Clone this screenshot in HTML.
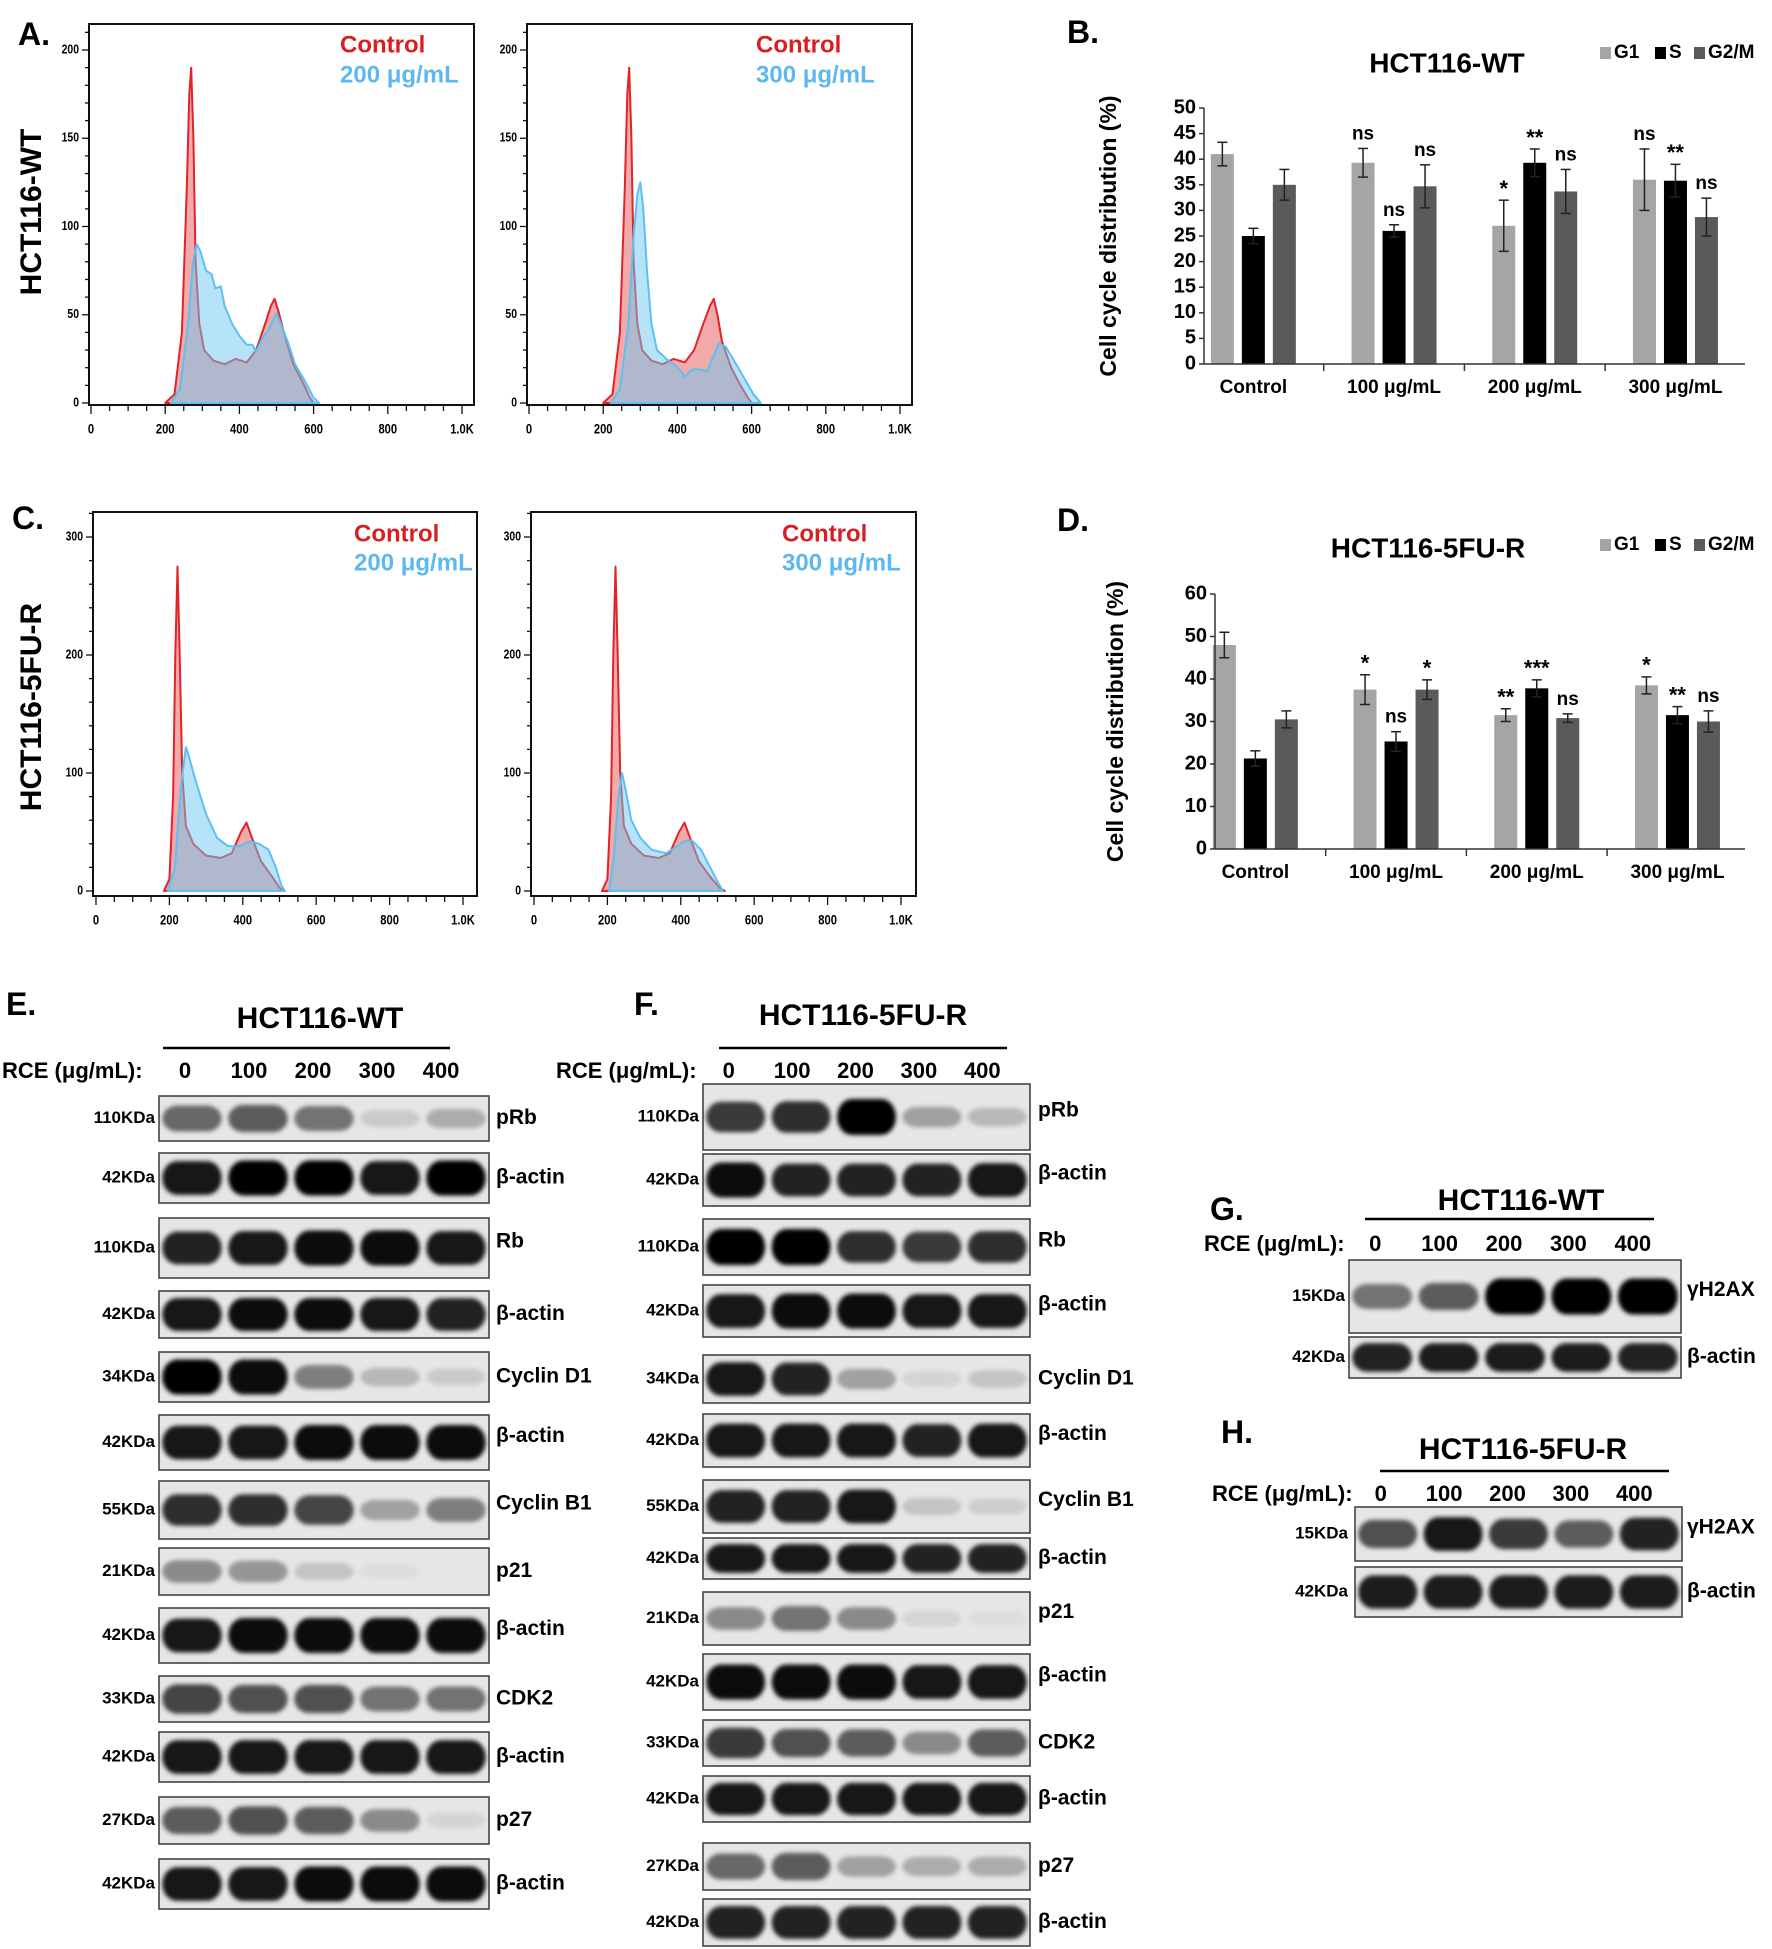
<!DOCTYPE html>
<html><head><meta charset="utf-8"><style>
html,body{margin:0;padding:0;background:#fff}
svg{display:block}
text{font-family:"Liberation Sans",Arial,sans-serif;font-weight:bold}
</style></head><body>
<svg id="fig" xmlns="http://www.w3.org/2000/svg" width="1772" height="1949" viewBox="0 0 1772 1949">
<defs><filter id="blur" x="-20%" y="-80%" width="140%" height="260%"><feGaussianBlur stdDeviation="2.2"/></filter></defs>
<g id="root"></g>
</svg>
<script>
// ---------- histogram data (DNA content vs count) ----------
const histWTcontrol = [[200,0],[225,5],[245,40],[258,120],[265,175],[270,190],[276,150],[282,80],[292,45],[305,30],[330,24],[360,22],[390,25],[420,23],[445,30],[465,42],[485,55],[495,59],[505,52],[520,40],[545,22],[570,12],[590,3],[600,0]];
const histWT200 = [[215,0],[240,8],[262,45],[275,80],[285,90],[295,86],[310,75],[325,73],[335,65],[350,66],[360,55],[380,45],[400,38],[420,33],[435,33],[445,29],[460,36],[480,42],[500,51],[515,43],[530,35],[550,22],[575,13],[600,3],[615,0]];
const histWT300 = [[220,0],[245,8],[268,45],[282,95],[292,118],[300,125],[308,110],[318,75],[330,45],[345,30],[370,25],[390,22],[410,18],[420,15],[440,19],[460,19],[480,18],[500,28],[512,34],[530,32],[550,25],[580,14],[605,5],[625,0]];
const histWTcontrol2 = [[200,0],[225,5],[245,40],[258,120],[265,175],[270,190],[276,150],[282,80],[292,45],[305,30],[330,24],[360,22],[390,25],[420,23],[445,30],[470,45],[488,55],[498,59],[508,50],[520,35],[545,20],[570,10],[590,3],[600,0]];
const histRcontrol = [[185,0],[200,10],[210,80],[216,200],[222,275],[228,200],[235,100],[245,55],[265,40],[300,30],[340,28],[370,32],[395,50],[410,58],[425,45],[450,25],[480,12],[500,3],[510,0]];
const histR200 = [[195,0],[215,20],[232,90],[245,122],[255,112],[270,95],[300,65],[330,45],[360,38],[390,38],[420,42],[445,40],[470,35],[490,20],[505,5],[515,0]];
const histR300 = [[205,0],[218,30],[230,80],[240,100],[250,85],[265,60],[290,45],[320,35],[360,32],[390,38],[410,42],[430,43],[455,35],[480,20],[500,8],[515,0]];
const histRcontrol2 = [[185,0],[200,10],[210,80],[216,200],[222,275],[228,200],[235,100],[245,55],[265,40],[300,30],[340,28],[370,32],[395,50],[410,58],[425,45],[450,25],[480,12],[505,3],[520,0]];
const histXTicks = ["0","200","400","600","800","1.0K"];
const histYTicksA = [0,50,100,150,200];
const histYTicksC = [0,100,200,300];

// ---------- bar chart data ----------
const barCategories = ["Control","100 μg/mL","200 μg/mL","300 μg/mL"];
const seriesNames = ["G1","S","G2/M"];
const wtG1 = [41,39.3,27,36], wtG1err=[2.3,2.8,5,6];
const wtS = [25,26,39.3,35.8], wtSerr=[1.5,1.2,2.7,3.2];
const wtG2M = [35,34.7,33.7,28.7], wtG2Merr=[3,4.2,4.3,3.7];
const wtG1sig=["","ns","*","ns"], wtSsig=["","ns","**","**"], wtG2Msig=["","ns","ns","ns"];
const rG1 = [48,37.5,31.5,38.5], rG1err=[3,3.5,1.5,2];
const rS = [21.3,25.3,37.8,31.5], rSerr=[1.8,2.3,2,2];
const rG2M = [30.5,37.5,30.8,30], rG2Merr=[2,2.3,1,2.5];
const rG1sig=["","*","**","*"], rSsig=["","ns","***","**"], rG2Msig=["","*","ns","ns"];
const wtYTicks=[0,5,10,15,20,25,30,35,40,45,50];
const rYTicks=[0,10,20,30,40,50,60];

// ---------- blot band intensities ----------
const laneLabels=["0","100","200","300","400"];
const E_pRb=[0.55,0.6,0.5,0.12,0.25], E_act1=[0.9,1,1,0.9,1], E_Rb=[0.85,0.9,0.95,0.95,0.9], E_act2=[0.9,0.95,0.95,0.9,0.85];
const E_cycD1=[1,0.95,0.45,0.2,0.12], E_act3=[0.9,0.9,0.95,0.95,0.95], E_cycB1=[0.8,0.8,0.7,0.3,0.45], E_p21=[0.4,0.35,0.15,0.04,0];
const E_act4=[0.9,0.95,0.95,0.95,0.95], E_cdk2=[0.7,0.65,0.65,0.5,0.5], E_act5=[0.9,0.9,0.9,0.9,0.9], E_p27=[0.6,0.65,0.6,0.4,0.08], E_act6=[0.9,0.9,0.95,0.95,0.95];
const F_pRb=[0.75,0.8,1,0.3,0.2], F_act1=[0.95,0.85,0.85,0.85,0.9], F_Rb=[1,1,0.8,0.75,0.8], F_act2=[0.9,0.95,0.95,0.9,0.9];
const F_cycD1=[0.9,0.85,0.3,0.08,0.15], F_act3=[0.9,0.9,0.9,0.85,0.9], F_cycB1=[0.85,0.85,0.9,0.15,0.1], F_act4=[0.9,0.9,0.9,0.85,0.85];
const F_p21=[0.4,0.5,0.4,0.08,0.04], F_act5=[0.95,0.95,0.95,0.9,0.9], F_cdk2=[0.75,0.65,0.6,0.4,0.6], F_act6=[0.9,0.9,0.9,0.9,0.9], F_p27=[0.55,0.6,0.3,0.25,0.25], F_act7=[0.85,0.85,0.85,0.85,0.85];
const G_h2ax=[0.5,0.6,1,1,1], G_act=[0.85,0.88,0.88,0.88,0.85];
const H_h2ax=[0.65,0.9,0.75,0.6,0.85], H_act=[0.88,0.88,0.88,0.88,0.88];

const NS="http://www.w3.org/2000/svg";
const root=document.getElementById('root');
function el(tag,attrs,parent){const e=document.createElementNS(NS,tag);for(const k in attrs)e.setAttribute(k,attrs[k]);(parent||root).appendChild(e);return e;}
function txt(s,x,y,size,opts,parent){opts=opts||{};const t=el('text',{x:x,y:y,'font-size':size,fill:opts.fill||'#000','text-anchor':opts.anchor||'start','dominant-baseline':'middle'},parent);if(opts.transform)t.setAttribute('transform',opts.transform);t.textContent=s;return t;}

// ---------- histograms ----------
function histogram(name,f,yTicks,yMinorStep,ymax,series,legend){
  const g=el('g',{});
  
  
  const sx=v=>f.xz+(v/1000)*(f.xk-f.xz);
  const sy=v=>f.yz-(v/ymax)*(f.yz-f.ym);
  series.forEach(s=>{
    let d='M'+sx(s.pts[0][0])+','+sy(0);
    s.pts.forEach(p=>{d+=' L'+sx(p[0]).toFixed(1)+','+sy(p[1]).toFixed(1);});
    d+=' Z';
    const p=el('path',{d:d,fill:s.fill,stroke:s.stroke,'stroke-width':2,'stroke-linejoin':'round'},g);
    
    
  });
  el('rect',{x:f.x0,y:f.y0,width:f.x1-f.x0,height:f.y1-f.y0,fill:'none',stroke:'#111','stroke-width':2},g);
  const top=Math.floor(((f.yz-f.y0)/(f.yz-f.ym))*ymax);
  for(let v=0;v<=top;v+=yMinorStep){const y=sy(v);const major=yTicks.includes(v);
    el('line',{x1:f.x0-(major?7:4),x2:f.x0,y1:y,y2:y,stroke:'#111','stroke-width':1.3},g);}
  yTicks.forEach(v=>{const t=txt(String(v),f.x0-10,sy(v),13,{anchor:'end',transform:'scale(0.8,1)'},g);t.setAttribute('x',(f.x0-10)/0.8);t.setAttribute('font-weight','normal');});
  for(let v=0;v<=1000;v+=50){const x=sx(v);const major=v%200===0;
    el('line',{x1:x,x2:x,y1:f.y1,y2:f.y1+(major?9:6),stroke:'#111','stroke-width':1.3},g);}
  histXTicks.forEach((s,i)=>{const t=txt(s,sx(i*200)/0.8,f.y1+25,14,{anchor:'middle',transform:'scale(0.8,1)'},g);t.setAttribute('font-weight','normal');});
  legend.forEach(l=>{const t=txt(l.t,l.x,l.y,24,{fill:l.c},g);});
}
const RED='rgba(222,50,50,0.42)', REDS='#e0242a', BLUE='rgba(110,200,240,0.5)', BLUES='#5cc0f2';
histogram('histogram-wt-200',{x0:89,x1:474,y0:24,y1:405,xz:91,xk:462,yz:403,ym:50},histYTicksA,10,200,
  [{name:'control-curve',pts:histWTcontrol,fill:RED,stroke:REDS},{name:'treated-200-curve',pts:histWT200,fill:BLUE,stroke:BLUES}],
  [{t:'Control',x:340,y:46,c:'#d81e22',n:'control'},{t:'200 μg/mL',x:340,y:76,c:'#5cb8ee',n:'200'}]);
histogram('histogram-wt-300',{x0:527,x1:912,y0:24,y1:405,xz:529,xk:900,yz:403,ym:50},histYTicksA,10,200,
  [{name:'control-curve',pts:histWTcontrol2,fill:RED,stroke:REDS},{name:'treated-300-curve',pts:histWT300,fill:BLUE,stroke:BLUES}],
  [{t:'Control',x:756,y:46,c:'#d81e22',n:'control'},{t:'300 μg/mL',x:756,y:76,c:'#5cb8ee',n:'300'}]);
histogram('histogram-5fur-200',{x0:93,x1:477,y0:512,y1:896,xz:96,xk:463,yz:891,ym:537},histYTicksC,20,300,
  [{name:'control-curve',pts:histRcontrol,fill:RED,stroke:REDS},{name:'treated-200-curve',pts:histR200,fill:BLUE,stroke:BLUES}],
  [{t:'Control',x:354,y:535,c:'#d81e22',n:'control'},{t:'200 μg/mL',x:354,y:564,c:'#5cb8ee',n:'200'}]);
histogram('histogram-5fur-300',{x0:531,x1:916,y0:512,y1:896,xz:534,xk:901,yz:891,ym:537},histYTicksC,20,300,
  [{name:'control-curve',pts:histRcontrol2,fill:RED,stroke:REDS},{name:'treated-300-curve',pts:histR300,fill:BLUE,stroke:BLUES}],
  [{t:'Control',x:782,y:535,c:'#d81e22',n:'control'},{t:'300 μg/mL',x:782,y:564,c:'#5cb8ee',n:'300'}]);
txt('HCT116-WT',33,212,30,{anchor:'middle',transform:'rotate(-90 33 212)'});
txt('HCT116-5FU-R',33,707,30,{anchor:'middle',transform:'rotate(-90 33 707)'});

// ---------- bar charts ----------
function barChart(name,c,vals,errs,sigs,yTicks,ymax,title){
  const g=el('g',{});
  
  
  const sy=v=>c.yz-(v/ymax)*(c.yz-c.ym);
  const bandC=i=>c.band0+(i+0.5)*c.bandW;
  const colors=['#a5a5a5','#000','#5a5a5a'];
  const offs=[-31,0,31];
  vals.forEach((arr,s)=>{
    arr.forEach((v,i)=>{
      const cx=bandC(i)+offs[s];
      const r=el('rect',{x:cx-11.5,y:sy(v),width:23,height:sy(0)-sy(v),fill:colors[s]},g);
      
      
      const e=errs[s][i];
      el('line',{x1:cx,x2:cx,y1:sy(v-e),y2:sy(v+e),stroke:'#222','stroke-width':1.5},g);
      el('line',{x1:cx-5,x2:cx+5,y1:sy(v+e),y2:sy(v+e),stroke:'#222','stroke-width':1.5},g);
      el('line',{x1:cx-5,x2:cx+5,y1:sy(v-e),y2:sy(v-e),stroke:'#222','stroke-width':1.5},g);
      if(sigs[s][i]){const isStar=sigs[s][i].indexOf('*')>=0;
        const t=txt(sigs[s][i],cx,sy(v+e)-(isStar?10:14),isStar?22:19,{anchor:'middle'},g);
        }
    });
  });
  el('line',{x1:c.ax0,x2:c.ax0,y1:sy(ymax),y2:sy(0),stroke:'#333','stroke-width':1.5},g);
  el('line',{x1:c.ax0,x2:c.ax1,y1:sy(0),y2:sy(0),stroke:'#333','stroke-width':1.5},g);
  yTicks.forEach(v=>{el('line',{x1:c.ax0-5,x2:c.ax0,y1:sy(v),y2:sy(v),stroke:'#333','stroke-width':1.5},g);
    txt(String(v),c.ax0-8,sy(v),20,{anchor:'end'},g);});
  for(let i=1;i<4;i++){const x=c.band0+i*c.bandW;el('line',{x1:x,x2:x,y1:sy(0),y2:sy(0)+7,stroke:'#333','stroke-width':1.5},g);}
  barCategories.forEach((s,i)=>txt(s,bandC(i),c.yz+24,19,{anchor:'middle'},g));
  txt('Cell cycle distribution (%)',c.ylx,(sy(0)+sy(ymax))/2,23,{anchor:'middle',transform:'rotate(-90 '+c.ylx+' '+((sy(0)+sy(ymax))/2)+')'},g);
  txt(title,c.tx,c.ty,28,{anchor:'middle'},g);
  const lx=[1600,1655,1694];
  seriesNames.forEach((s,i)=>{el('rect',{x:lx[i],y:c.ly-6,width:11,height:12,fill:colors[i]},g);
    const t=txt(s,lx[i]+14,c.ly,19,{},g);});
}
barChart('bar-chart-wt',{yz:364,ym:108,ax0:1204,ax1:1745,band0:1183,bandW:140.7,ylx:1110,tx:1447,ty:65,ly:53},[wtG1,wtS,wtG2M],[wtG1err,wtSerr,wtG2Merr],[wtG1sig,wtSsig,wtG2Msig],wtYTicks,50,'HCT116-WT');
barChart('bar-chart-5fur',{yz:849,ym:594,ax0:1215,ax1:1745,band0:1185,bandW:140.7,ylx:1117,tx:1428,ty:550,ly:545},[rG1,rS,rG2M],[rG1err,rSerr,rG2Merr],[rG1sig,rSsig,rG2Msig],rYTicks,60,'HCT116-5FU-R');

// ---------- panel letters ----------
[['A.',18,22],['B.',1067,20],['C.',12,506],['D.',1057,508],['E.',6,992],['F.',634,992],['G.',1210,1197],['H.',1221,1420]].forEach(p=>{
  const t=txt(p[0],p[1],p[2],32,{});
  t.setAttribute('dominant-baseline','hanging');});

// ---------- blots ----------
function blot(x0,x1,y0,y1,vals,name,kda,kdaX,nameX){
  const g=el('g',{});
  
  
  el('rect',{x:x0,y:y0,width:x1-x0,height:y1-y0,fill:'#e6e6e6',stroke:'#444','stroke-width':1.6},g);
  const h=y1-y0, w=(x1-x0)/5, cy=(y0+y1)/2;
  vals.forEach((v,i)=>{ if(v<=0.02) return;
    const cx=x0+(i+0.5)*w;
    const bh=Math.min(h*0.7,14+22*v), bw=w*0.9;
    const b=el('rect',{x:cx-bw/2,y:cy-bh/2,width:bw,height:bh,rx:bw*0.25,ry:bh/2,fill:'#000','fill-opacity':Math.min(1,v),filter:'url(#blur)'},g);
    
    
  });
  txt(kda,kdaX,cy,17,{anchor:'end'},g);
  txt(name,nameX,cy-(h>50?6:0),21,{},g);
}
function header(title,tx,ty,lx0,lx1,ly,rceX,rceY,lanesX0,lanesX1){
  txt(title,tx,ty,30,{anchor:'middle'});
  el('line',{x1:lx0,x2:lx1,y1:ly,y2:ly,stroke:'#000','stroke-width':2.5});
  txt('RCE (μg/mL):',rceX,rceY,22,{});
  const w=(lanesX1-lanesX0)/5;
  laneLabels.forEach((s,i)=>txt(s,lanesX0+(i+0.5)*w-7-i*2,rceY,22,{anchor:'middle'}));
}
header('HCT116-WT',320,1020,163,450,1048,2,1072,159,489);
const Erows=[[1096,1141,E_pRb,'pRb','110KDa'],[1153,1203,E_act1,'β-actin','42KDa'],[1218,1278,E_Rb,'Rb','110KDa'],[1291,1338,E_act2,'β-actin','42KDa'],
 [1352,1402,E_cycD1,'Cyclin D1','34KDa'],[1415,1470,E_act3,'β-actin','42KDa'],[1481,1539,E_cycB1,'Cyclin B1','55KDa'],[1548,1595,E_p21,'p21','21KDa'],
 [1608,1663,E_act4,'β-actin','42KDa'],[1676,1722,E_cdk2,'CDK2','33KDa'],[1732,1782,E_act5,'β-actin','42KDa'],[1797,1844,E_p27,'p27','27KDa'],[1859,1909,E_act6,'β-actin','42KDa']];
Erows.forEach(r=>blot(159,489,r[0],r[1],r[2],r[3],r[4],155,496));
header('HCT116-5FU-R',863,1017,719,1007,1048,556,1072,703,1030);
const Frows=[[1084,1150,F_pRb,'pRb','110KDa'],[1154,1206,F_act1,'β-actin','42KDa'],[1219,1275,F_Rb,'Rb','110KDa'],[1285,1337,F_act2,'β-actin','42KDa'],
 [1355,1403,F_cycD1,'Cyclin D1','34KDa'],[1414,1467,F_act3,'β-actin','42KDa'],[1480,1533,F_cycB1,'Cyclin B1','55KDa'],[1538,1579,F_act4,'β-actin','42KDa'],
 [1592,1645,F_p21,'p21','21KDa'],[1654,1710,F_act5,'β-actin','42KDa'],[1720,1766,F_cdk2,'CDK2','33KDa'],[1776,1822,F_act6,'β-actin','42KDa'],
 [1843,1890,F_p27,'p27','27KDa'],[1899,1946,F_act7,'β-actin','42KDa']];
Frows.forEach(r=>blot(703,1030,r[0],r[1],r[2],r[3],r[4],699,1038));
header('HCT116-WT',1521,1202,1365,1654,1219,1204,1245,1349,1681);
blot(1349,1681,1260,1333,G_h2ax,'γH2AX','15KDa',1345,1687);
blot(1349,1681,1337,1378,G_act,'β-actin','42KDa',1345,1687);
header('HCT116-5FU-R',1523,1451,1380,1669,1471,1212,1495,1355,1682);
blot(1355,1682,1507,1561,H_h2ax,'γH2AX','15KDa',1348,1687);
blot(1355,1682,1567,1617,H_act,'β-actin','42KDa',1348,1687);
</script>
</body></html>
